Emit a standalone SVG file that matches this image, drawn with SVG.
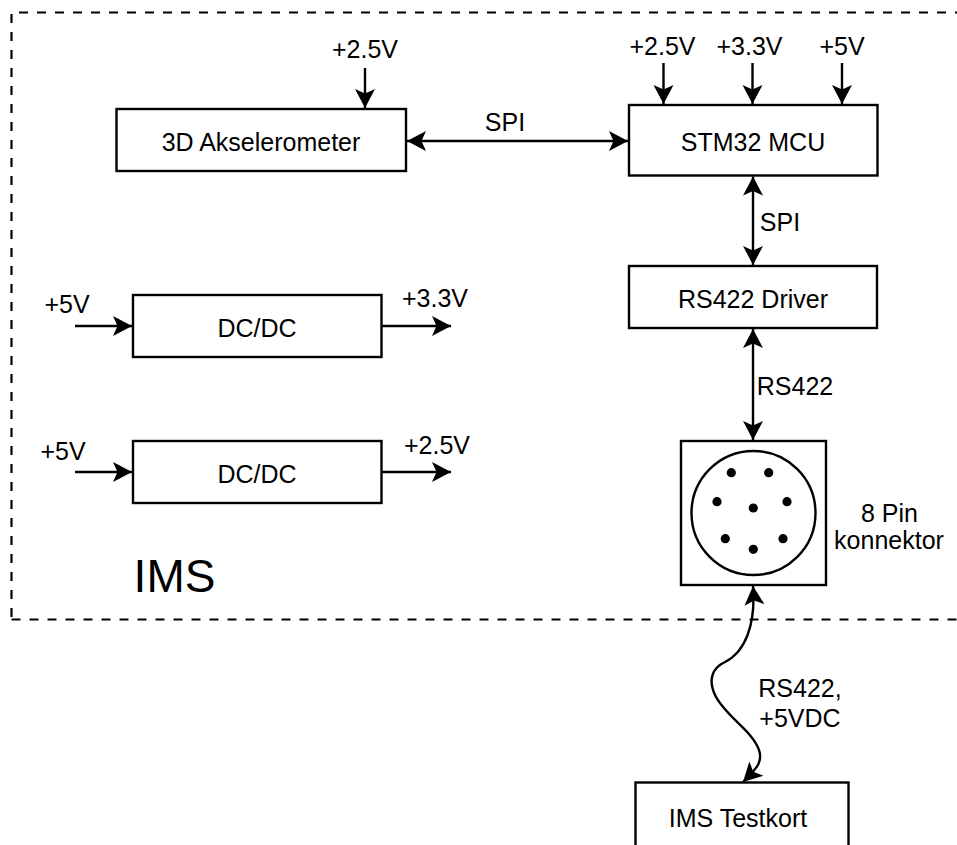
<svg xmlns="http://www.w3.org/2000/svg" width="957" height="845" viewBox="0 0 957 845">
<style>
text{font-family:"Liberation Sans",Arial,sans-serif;font-size:25px;fill:#000;text-anchor:middle}
.b{fill:#fff;stroke:#000;stroke-width:2.4}
.c{fill:none;stroke:#000;stroke-width:2.4}
.d{fill:none;stroke:#000;stroke-width:2.2;stroke-dasharray:9 9}
</style>
<defs>
<marker id="a" markerUnits="userSpaceOnUse" markerWidth="24" markerHeight="24" refX="19" refY="12" orient="auto-start-reverse" viewBox="0 0 24 24"><path d="M0 2 L19 12 L0 22 L4.500 12 Z" fill="#000"/></marker>
</defs>
<rect width="957" height="845" fill="#fff"/>
<g id="ims-boundary">
<path class="d" d="M11.500 617 V12.500 H957"/>
<path class="d" d="M11.500 619.500 H957"/>
<text x="174.500" y="592" style="font-size:46px">IMS</text>
</g>
<g id="connectors">
<path class="c" marker-end="url(#a)" d="M365 68 V108"/>
<path class="c" marker-start="url(#a)" marker-end="url(#a)" d="M407 141 H628"/>
<path class="c" marker-end="url(#a)" d="M663.500 63 V104"/>
<path class="c" marker-end="url(#a)" d="M752.500 63 V104"/>
<path class="c" marker-end="url(#a)" d="M842 63 V104"/>
<path class="c" marker-start="url(#a)" marker-end="url(#a)" d="M753 176.500 V265"/>
<path class="c" marker-start="url(#a)" marker-end="url(#a)" d="M753 329 V440"/>
<path class="c" marker-end="url(#a)" d="M75 326 H132"/>
<path class="c" marker-end="url(#a)" d="M382 326 H451"/>
<path class="c" marker-end="url(#a)" d="M75 472 H132"/>
<path class="c" marker-end="url(#a)" d="M382 472 H451"/>
<path class="c" marker-start="url(#a)" marker-end="url(#a)" d="M753 586 C756 625 745 652 725 662 C712 668 708 680 715 695 C725 716 752 730 759 750 C763 762 757 768 743 782"/>
</g>
<g id="accelerometer"><rect class="b" x="116.500" y="109" width="289.500" height="62"/><text x="261" y="151">3D Akselerometer</text></g>
<g id="mcu"><rect class="b" x="629" y="105" width="248.500" height="70.500"/><text x="753" y="151">STM32 MCU</text></g>
<g id="driver"><rect class="b" x="629" y="266" width="248" height="62"/><text x="753" y="308">RS422 Driver</text></g>
<g id="dcdc-1"><rect class="b" x="133" y="295" width="248.500" height="62"/><text x="257" y="337">DC/DC</text></g>
<g id="dcdc-2"><rect class="b" x="133" y="441" width="248.500" height="62"/><text x="257" y="483">DC/DC</text></g>
<g id="connector-8pin">
<rect class="b" x="681" y="441" width="145" height="144"/>
<circle class="c" cx="753.500" cy="513" r="62"/>
<circle cx="731.300" cy="472.700" r="4.600"/><circle cx="768.700" cy="472.700" r="4.600"/>
<circle cx="717" cy="501.700" r="4.600"/><circle cx="787" cy="501.700" r="4.600"/>
<circle cx="753.300" cy="508" r="4.600"/><circle cx="725.300" cy="538.700" r="4.600"/>
<circle cx="783" cy="538.700" r="4.600"/><circle cx="753.300" cy="549.300" r="4.600"/>
</g>
<g id="testkort"><rect class="b" x="635.500" y="782.500" width="213" height="70"/><text x="738" y="827">IMS Testkort</text></g>
<g id="labels">
<text x="365" y="58">+2.5V</text>
<text x="662.500" y="55">+2.5V</text>
<text x="749.500" y="55">+3.3V</text>
<text x="842" y="55">+5V</text>
<text x="505" y="131">SPI</text>
<text x="780" y="231">SPI</text>
<text x="795" y="395">RS422</text>
<text x="67" y="313">+5V</text>
<text x="435" y="307">+3.3V</text>
<text x="63" y="460">+5V</text>
<text x="437" y="454">+2.5V</text>
<text x="889.500" y="522">8 Pin</text>
<text x="889" y="549">konnektor</text>
<text x="800" y="697">RS422,</text>
<text x="800" y="727">+5VDC</text>
</g>
</svg>
